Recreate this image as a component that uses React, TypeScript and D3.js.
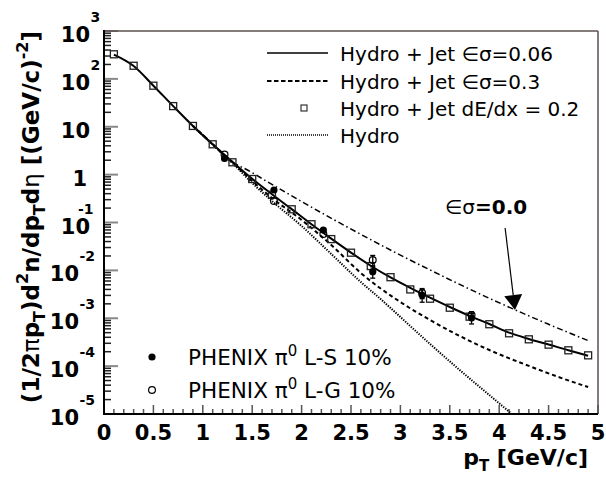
import React from "react";
import * as d3 from "d3";

// ---- data ----
const squareP = [0.1, 0.3, 0.5, 0.7, 0.9, 1.1, 1.3, 1.5, 1.7, 1.9, 2.1, 2.3, 2.5, 2.7, 2.9, 3.1, 3.3, 3.5, 3.7, 3.9, 4.1, 4.3, 4.5, 4.7, 4.9];
const squareVal = [326, 188, 72, 27, 10.4, 4.3, 1.81, 0.81, 0.38, 0.189, 0.092, 0.045, 0.0234, 0.0123, 0.0072, 0.004, 0.00256, 0.00166, 0.00108, 0.00075, 0.000485, 0.000363, 0.000281, 0.000214, 0.000168];

const solidP = [0.1, 0.3, 0.5, 0.7, 0.9, 1.1, 1.3, 1.5, 1.7, 1.9, 2.1, 2.3, 2.5, 2.7, 2.9, 3.1, 3.3, 3.5, 3.7, 3.9, 4.1, 4.3, 4.5, 4.7, 4.9];
const solidVal = [320, 185, 72, 27, 10.4, 4.3, 1.85, 0.82, 0.39, 0.19, 0.092, 0.046, 0.0235, 0.0125, 0.0071, 0.0043, 0.0027, 0.00172, 0.00112, 0.00076, 0.0005, 0.00037, 0.000283, 0.000214, 0.000165];

const dashedP = [0.9, 1.1, 1.3, 1.5, 1.7, 2.0, 2.3, 2.6, 3.0, 3.3, 3.6, 3.9, 4.3, 4.6, 4.9];
const dashedVal = [10.4, 4.3, 1.79, 0.736, 0.325, 0.113, 0.0339, 0.0088, 0.00218, 0.000918, 0.000426, 0.000217, 0.000101, 0.0000593, 0.0000366];

const dashDotP = [0.9, 1.1, 1.2, 1.5, 1.8, 2.1, 2.4, 2.7, 3.0, 3.3, 3.6, 3.9, 4.2, 4.5, 4.9];
const dashDotVal = [10.4, 4.36, 2.62, 1.1, 0.473, 0.209, 0.0944, 0.0438, 0.0208, 0.0102, 0.00509, 0.00261, 0.00138, 0.000748, 0.000341];

const hydroP = [0.9, 1.1, 1.3, 1.5, 1.7, 2.0, 2.3, 2.6, 2.8, 3.0, 3.3, 3.6, 3.9, 4.1, 4.2];
const hydroVal = [10.4, 4.25, 1.75, 0.668, 0.281, 0.0845, 0.022, 0.0057, 0.00252, 0.00106, 0.00029, 0.000083, 0.0000249, 0.0000112, 0.0000075];

const phenixP = [1.22, 1.72, 2.22, 2.72, 3.22, 3.72];
const lsVal = [2.17, 0.477, 0.0697, 0.00938, 0.00306, 0.00101];
const lsErr = [0, 0, 0, 0.0025, 0.0009, 0.00025];
const lgVal = [2.63, 0.281, 0.0575, 0.0165, 0.00337, 0.00117];
const lgErr = [0, 0, 0, 0.004, 0.0008, 0.0002];

const xTickVals = [0, 0.5, 1, 1.5, 2, 2.5, 3, 3.5, 4, 4.5, 5];
const xTickLabels = ["0", "0.5", "1", "1.5", "2", "2.5", "3", "3.5", "4", "4.5", "5"];
const yDecades = [3, 2, 1, 0, -1, -2, -3, -4, -5];

const arrowFrom = [4.06, 0.0767];
const arrowTo = [4.16, 0.00149];
const annotPos = [3.45, 0.214];

const legendItems = [
  "Hydro + Jet \u2208\u03C3=0.06",
  "Hydro + Jet \u2208\u03C3=0.3",
  "Hydro + Jet dE/dx = 0.2",
  "Hydro",
];

export default function App() {
  const W = 606, H = 477;
  const L = 104, R = 598, T = 31, B = 414;
  const x = d3.scaleLinear().domain([0, 5]).range([L, R]);
  const y = d3.scaleLog().domain([1e-5, 1e3]).range([B, T]);

  const mk = (ps: number[], vs: number[]) =>
    d3.line<number>().x((_, i) => x(ps[i])).y((_, i) => y(vs[i])).curve(d3.curveMonotoneX)(ps) || "";

  const minorY: number[] = [];
  for (let e = -5; e <= 2; e++) for (let k = 2; k <= 9; k++) minorY.push(k * Math.pow(10, e));
  const minorX = d3.range(0, 51).filter((i) => i % 5 !== 0).map((i) => i / 10);

  const yLabel = (e: number) => {
    const ty = y(Math.pow(10, e));
    const base = ty + 11;
    const expBase = ty - 9;
    if (e === 0) return <text key={e} x={87} y={base} textAnchor="end" fontWeight="bold" fontSize={21}>1</text>;
    if (e === 1) return <text key={e} x={90} y={base} textAnchor="end" fontWeight="bold" fontSize={21}>10</text>;
    let tenEnd = 90, expStart = 90.5;
    if (e === -1) { tenEnd = 90; expStart = 78; }
    if (e <= -2) { tenEnd = 79; expStart = 79.5; }
    return (
      <g key={e}>
        <text x={tenEnd} y={base} textAnchor="end" fontWeight="bold" fontSize={21}>10</text>
        <text x={expStart} y={expBase} fontWeight="bold" fontSize={14}>{String(e)}</text>
      </g>
    );
  };

  // arrow
  const ax1 = x(arrowFrom[0]), ay1 = y(arrowFrom[1]);
  const ax2 = x(arrowTo[0]), ay2 = y(arrowTo[1]);
  const alen = Math.hypot(ax2 - ax1, ay2 - ay1);
  const ux = (ax2 - ax1) / alen, uy = (ay2 - ay1) / alen;
  const hl = 15, hw = 9;
  const bx = ax2 - ux * hl, by = ay2 - uy * hl;
  const head = `M${ax2},${ay2}L${bx - uy * hw},${by + ux * hw}L${bx + uy * hw},${by - ux * hw}Z`;

  const legY = [53, 81, 108, 135];
  const sq = 7;

  return (
    <svg width={W} height={H} style={{ position: "absolute", left: 0, top: 0, background: "#fff" }}
      fontFamily="'DejaVu Sans', sans-serif">
      <rect x={0} y={0} width={W} height={H} fill="#fff" />
      <defs>
        <clipPath id="plot"><rect x={L} y={T} width={R - L} height={B - T} /></clipPath>
      </defs>

      {/* ticks */}
      {yDecades.map((e) => (
        <line key={"M" + e} x1={L} x2={L + 14} y1={y(Math.pow(10, e))} y2={y(Math.pow(10, e))} stroke="#888" strokeWidth={2} />
      ))}
      {minorY.map((v, i) => (
        <line key={"m" + i} x1={L} x2={L + 7} y1={y(v)} y2={y(v)} stroke="#222" strokeWidth={1.5} />
      ))}
      {xTickVals.map((v, i) => (
        <line key={"X" + i} x1={x(v)} x2={x(v)} y1={B} y2={B - 9} stroke="#555" strokeWidth={1.5} />
      ))}
      {minorX.map((v, i) => (
        <line key={"x" + i} x1={x(v)} x2={x(v)} y1={B} y2={B - 5} stroke="#555" strokeWidth={1.5} />
      ))}

      {/* frame */}
      <line x1={L} x2={R} y1={T} y2={T} stroke="#5b4f4f" strokeWidth={1.5} />
      <line x1={R} x2={R} y1={T} y2={B} stroke="#5b4f4f" strokeWidth={1.5} />
      <line x1={L} x2={L} y1={T - 1} y2={B + 1} stroke="#000" strokeWidth={2} />
      <line x1={L - 1} x2={R} y1={B} y2={B} stroke="#000" strokeWidth={2} />

      {/* curves */}
      <g clipPath="url(#plot)" fill="none">
        <path d={mk(hydroP, hydroVal)} stroke="#000" strokeWidth={2} strokeDasharray="1.3,1.3" />
        <path d={mk(dashedP, dashedVal)} stroke="#000" strokeWidth={2} strokeDasharray="4,3" />
        <path d={mk(dashDotP, dashDotVal)} stroke="#000" strokeWidth={1.5} strokeDasharray="6,3,1.5,3" />
        <path d={mk(solidP, solidVal)} stroke="#000" strokeWidth={2} />
      </g>

      {/* squares */}
      {squareP.map((p, i) => (
        <rect key={"s" + i} x={x(p) - sq / 2} y={y(squareVal[i]) - sq / 2} width={sq} height={sq}
          fill="none" stroke="#222" strokeWidth={1.3} />
      ))}

      {/* PHENIX */}
      {phenixP.map((p, i) => (
        <g key={"e" + i} stroke="#000" strokeWidth={1.3}>
          {lsErr[i] > 0 && (
            <g>
              <line x1={x(p)} x2={x(p)} y1={y(lsVal[i] + lsErr[i])} y2={y(lsVal[i] - lsErr[i])} />
              <line x1={x(p) - 2.5} x2={x(p) + 2.5} y1={y(lsVal[i] + lsErr[i])} y2={y(lsVal[i] + lsErr[i])} />
              <line x1={x(p) - 2.5} x2={x(p) + 2.5} y1={y(lsVal[i] - lsErr[i])} y2={y(lsVal[i] - lsErr[i])} />
            </g>
          )}
          {lgErr[i] > 0 && (
            <g>
              <line x1={x(p)} x2={x(p)} y1={y(lgVal[i] + lgErr[i])} y2={y(lgVal[i] - lgErr[i])} />
              <line x1={x(p) - 2.5} x2={x(p) + 2.5} y1={y(lgVal[i] + lgErr[i])} y2={y(lgVal[i] + lgErr[i])} />
              <line x1={x(p) - 2.5} x2={x(p) + 2.5} y1={y(lgVal[i] - lgErr[i])} y2={y(lgVal[i] - lgErr[i])} />
            </g>
          )}
        </g>
      ))}
      {phenixP.map((p, i) => (
        <circle key={"ls" + i} cx={x(p)} cy={y(lsVal[i])} r={3.6} fill="#000" />
      ))}
      {phenixP.map((p, i) => (
        <circle key={"lg" + i} cx={x(p)} cy={y(lgVal[i])} r={3.4} fill="none" stroke="#000" strokeWidth={1.2} />
      ))}

      {/* arrow annotation */}
      <line x1={ax1} y1={ay1} x2={bx} y2={by} stroke="#000" strokeWidth={1.2} />
      <path d={head} fill="#000" />
      <text x={x(annotPos[0])} y={y(annotPos[1]) + 7} fontSize={20}>
        <tspan>{"\u2208\u03C3"}</tspan><tspan fontWeight="bold">=0.0</tspan>
      </text>

      {/* top-right legend */}
      <line x1={267} x2={328} y1={legY[0]} y2={legY[0]} stroke="#000" strokeWidth={1.5} />
      <line x1={267} x2={328} y1={legY[1]} y2={legY[1]} stroke="#000" strokeWidth={2} strokeDasharray="4.5,2.5" />
      <rect x={304 - 3} y={legY[2] - 3} width={6} height={6} fill="none" stroke="#222" strokeWidth={1.1} />
      <line x1={267} x2={328} y1={legY[3]} y2={legY[3]} stroke="#000" strokeWidth={1.5} strokeDasharray="1,1" />
      {legendItems.map((t, i) => (
        <text key={"lt" + i} x={340} y={legY[i] + 7.5} fontSize={20}>{t}</text>
      ))}

      {/* bottom-left legend */}
      <circle cx={152} cy={357} r={3.6} fill="#000" />
      <circle cx={152} cy={390} r={3.4} fill="none" stroke="#000" strokeWidth={1.2} />
      <text x={188} y={364.5} fontSize={21.5}>
        <tspan>{"PHENIX \u03C0"}</tspan><tspan fontSize={15} dy={-9}>0</tspan><tspan dy={9}>{" L-S 10%"}</tspan>
      </text>
      <text x={188} y={397.5} fontSize={21.5}>
        <tspan>{"PHENIX \u03C0"}</tspan><tspan fontSize={15} dy={-9}>0</tspan><tspan dy={9}>{" L-G 10%"}</tspan>
      </text>

      {/* axis labels */}
      {xTickVals.map((v, i) => (
        <text key={"xl" + i} x={x(v)} y={440} textAnchor="middle" fontWeight="bold" fontSize={21}>{xTickLabels[i]}</text>
      ))}
      {yDecades.map((e) => yLabel(e))}

      <text x={588} y={465} textAnchor="end" fontWeight="bold" fontSize={22}>
        <tspan>p</tspan><tspan fontSize={15} dy={6}>T</tspan><tspan dy={-6}>{" [GeV/c]"}</tspan>
      </text>

      <text transform={`translate(39,${T}) rotate(-90)`} textAnchor="end" fontWeight="bold" fontSize={23}>
        <tspan>(1/2</tspan>
        <tspan fontWeight="normal">{"\u03C0"}</tspan>
        <tspan>p</tspan>
        <tspan fontSize={16} dy={6}>T</tspan>
        <tspan dy={-6}>)d</tspan>
        <tspan fontSize={16} dy={-11}>2</tspan>
        <tspan dy={11}>n/dp</tspan>
        <tspan fontSize={16} dy={6}>T</tspan>
        <tspan dy={-6}>d</tspan>
        <tspan fontWeight="normal">{"\u03B7"}</tspan>
        <tspan>{" [(GeV/c)"}</tspan>
        <tspan fontSize={16} dy={-11}>-2</tspan>
        <tspan dy={11}>]</tspan>
      </text>
    </svg>
  );
}
